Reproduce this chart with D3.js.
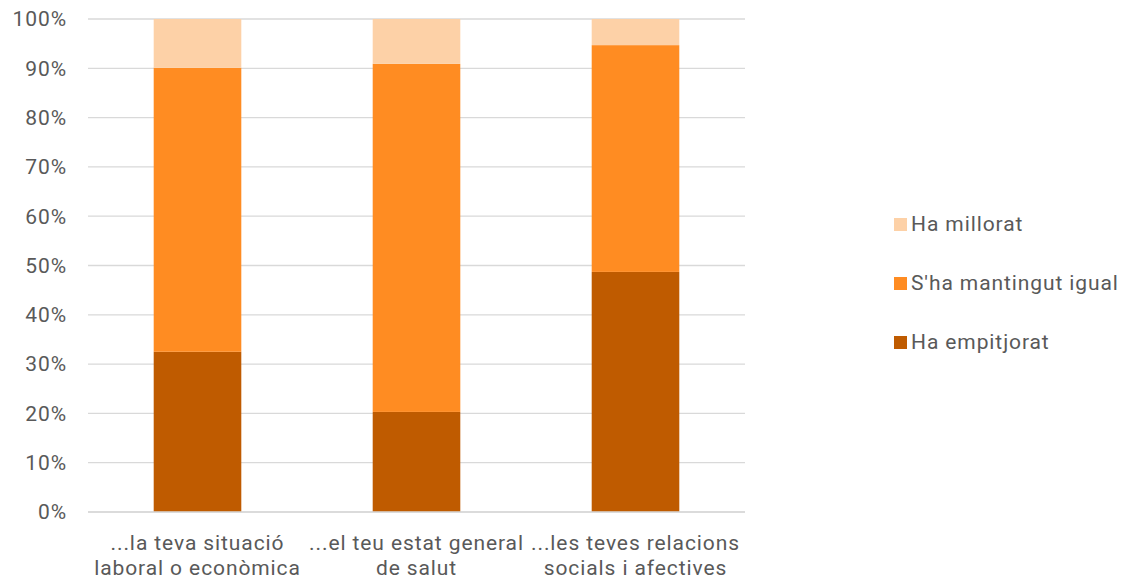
<!DOCTYPE html>
<html>
<head>
<meta charset="utf-8">
<script src="https://cdn.jsdelivr.net/npm/d3@7"></script>
<style>
  body { margin: 0; background: #fff; }
  svg text { font-family: "Roboto", sans-serif; fill: #595959; letter-spacing: 0.9px; }
</style>
</head>
<body>
<svg id="chart" width="1124" height="579"></svg>
<script>
// categories (two lines each)
const categories = [
  ["...la teva situació", "laboral o econòmica"],
  ["...el teu estat general", "de salut"],
  ["...les teves relacions", "socials i afectives"]
];
const series = ["Ha empitjorat", "S'ha mantingut igual", "Ha millorat"];
const empitjorat = [32.5, 20.3, 48.7];
const igual = [57.6, 70.6, 46.0];
const millorat = [9.9, 9.1, 5.3];
const yTicks = [0, 10, 20, 30, 40, 50, 60, 70, 80, 90, 100];
const colors = ["#bf5b00", "#ff8c22", "#fdd1a7"];

const svg = d3.select("#chart");
const margin = { left: 88, right: 379, top: 19, bottom: 67 };
const width = 1124 - margin.left - margin.right;
const height = 579 - margin.top - margin.bottom;

const g = svg.append("g").attr("transform", `translate(${margin.left},${margin.top})`);

const x = d3.scaleBand().domain(d3.range(categories.length)).range([0, width]).paddingInner(0.6).paddingOuter(0.3);
const y = d3.scaleLinear().domain([0, 100]).range([height, 0]);

// gridlines
g.selectAll(".grid")
  .data(yTicks)
  .enter()
  .append("line")
  .attr("x1", 0).attr("x2", width)
  .attr("y1", d => y(d)).attr("y2", d => y(d))
  .attr("stroke", "#d9d9d9")
  .attr("stroke-width", 1.3);

// y labels
g.selectAll(".ylab")
  .data(yTicks)
  .enter()
  .append("text")
  .attr("x", -21)
  .attr("y", d => y(d))
  .attr("dy", "0.35em")
  .attr("text-anchor", "end")
  .style("font-size", "21px")
  .text(d => d + "%");

const table = categories.map((c, i) => ({ i, e: empitjorat[i], s: igual[i], m: millorat[i] }));
const stacked = d3.stack().keys(["e", "s", "m"])(table);

g.selectAll(".layer")
  .data(stacked)
  .enter()
  .append("g")
  .attr("fill", (d, k) => colors[k])
  .selectAll("rect")
  .data(d => d)
  .enter()
  .append("rect")
  .attr("x", d => x(d.data.i))
  .attr("width", x.bandwidth())
  .attr("y", d => y(d[1]))
  .attr("height", d => y(d[0]) - y(d[1]));

// x axis line
g.append("line")
  .attr("x1", 0).attr("x2", width)
  .attr("y1", height).attr("y2", height)
  .attr("stroke", "#d9d9d9")
  .attr("stroke-width", 1.3);

// category labels
categories.forEach((lines, i) => {
  const t = g.append("text")
    .attr("x", x(i) + x.bandwidth() / 2)
    .attr("y", height + 38)
    .attr("text-anchor", "middle")
    .style("font-size", "21px");
  lines.forEach((l, j) => {
    t.append("tspan")
      .attr("x", x(i) + x.bandwidth() / 2)
      .attr("dy", j === 0 ? 0 : 25)
      .text(l);
  });
});

// legend (top to bottom: millorat, igual, empitjorat)
const legend = svg.append("g").attr("transform", "translate(894,224)");
const order = [2, 1, 0];
order.forEach((k, j) => {
  const row = legend.append("g").attr("transform", `translate(0,${j * 59})`);
  row.append("rect")
    .attr("x", 0).attr("y", -6)
    .attr("width", 13).attr("height", 13)
    .attr("fill", colors[k]);
  row.append("text")
    .attr("x", 17)
    .attr("y", 0)
    .attr("dy", "0.35em")
    .style("font-size", "21px")
    .text(series[k]);
});
</script>
</body>
</html>
